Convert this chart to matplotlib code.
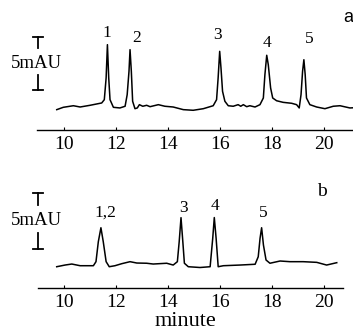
import matplotlib
matplotlib.use("Agg")
import matplotlib.pyplot as plt

plt.rcParams['font.family'] = ['Liberation Serif', 'DejaVu Serif']

# chromatogram a: retention time (min) and absorbance (mAU)
time_a = [9.72, 9.97, 10.36, 10.62, 11.00, 11.45, 11.55, 11.62, 11.67, 11.72,
          11.77, 11.90, 12.15, 12.35, 12.43, 12.50, 12.54, 12.59, 12.64, 12.73,
          12.82, 12.90, 13.03, 13.18, 13.31, 13.63, 13.88, 14.20, 14.59, 14.97,
          15.36, 15.74, 15.87, 15.93, 15.99, 16.04, 16.10, 16.19, 16.32, 16.51,
          16.70, 16.80, 16.90, 17.03, 17.15, 17.35, 17.54, 17.67, 17.73, 17.80,
          17.86, 17.95, 18.03, 18.18, 18.43, 18.76, 18.95, 19.05, 19.12, 19.18,
          19.23, 19.28, 19.33, 19.46, 19.72, 20.04, 20.36, 20.62, 21.00, 21.15]
mau_a = [1.92, 2.14, 2.29, 2.17, 2.33, 2.55, 2.86, 4.91, 8.05, 4.91,
         2.86, 2.14, 2.08, 2.24, 3.33, 5.54, 7.58, 5.54, 2.71, 2.01,
         2.08, 2.39, 2.24, 2.33, 2.20, 2.39, 2.24, 2.17, 1.92, 1.86,
         2.01, 2.29, 2.86, 4.91, 7.42, 5.85, 3.65, 2.71, 2.29, 2.24,
         2.39, 2.24, 2.39, 2.20, 2.29, 2.17, 2.39, 3.02, 5.22, 7.05,
         6.16, 3.96, 3.02, 2.76, 2.61, 2.52, 2.39, 2.08, 3.33, 5.54,
         6.63, 5.22, 3.02, 2.39, 2.17, 2.01, 2.24, 2.29, 2.08, 2.10]

# chromatogram b
time_b = [9.72, 10.04, 10.30, 10.62, 11.13, 11.23, 11.32, 11.42, 11.51, 11.62,
          11.74, 11.96, 12.22, 12.54, 12.80, 13.18, 13.43, 13.95, 14.20, 14.36,
          14.43, 14.50, 14.57, 14.63, 14.78, 15.23, 15.62, 15.72, 15.78, 15.85,
          15.93, 16.13, 16.77, 17.35, 17.47, 17.54, 17.60, 17.67, 17.77, 17.92,
          18.31, 18.69, 19.20, 19.72, 20.10, 20.49]
mau_b = [1.90, 2.05, 2.14, 1.99, 1.99, 2.35, 4.13, 5.38, 4.13, 2.35,
         1.90, 1.99, 2.17, 2.35, 2.23, 2.21, 2.14, 2.21, 2.05, 2.35,
         4.13, 6.28, 4.13, 2.21, 1.90, 1.83, 1.90, 4.44, 6.29, 4.44,
         1.90, 1.99, 2.05, 2.12, 2.79, 4.44, 5.38, 3.84, 2.50, 2.21,
         2.41, 2.35, 2.35, 2.29, 2.05, 2.26]

peak_labels_a = ['1', '2', '3', '4', '5']
label_t_a = [11.65, 12.81, 15.92, 17.81, 19.42]
label_y_a = [9.15, 8.68, 8.96, 8.21, 8.58]

peak_labels_b = ['1,2', '3', '4', '5']
label_t_b = [11.58, 14.58, 15.81, 17.65]
label_y_b = [6.70, 7.14, 7.32, 6.70]

ticks = [10, 12, 14, 16, 18, 20]

W, H = 353, 332
fig = plt.figure(figsize=(W / 100, H / 100), dpi=100)


def panel(rect, xlim, ylim, t, y, labels, lt, ly, bar_t, bar_lo):
    ax = fig.add_axes(rect)
    ax.plot(t, y, color='black', lw=1.1, clip_on=False)
    for s, x0, y0 in zip(labels, lt, ly):
        ax.text(x0, y0, s, ha='center', va='center', fontsize=12.5)
    # 5 mAU scale bar with the label sitting in the gap
    hi = bar_lo + 5
    cap = 0.21
    kw = dict(color='black', lw=1.3, clip_on=False)
    ax.plot([bar_t - cap, bar_t + cap], [hi, hi], **kw)
    ax.plot([bar_t - cap, bar_t + cap], [bar_lo, bar_lo], **kw)
    ax.plot([bar_t, bar_t], [hi, hi - 1.05], **kw)
    ax.plot([bar_t, bar_t], [bar_lo, bar_lo + 1.4], **kw)
    ax.text(bar_t - 0.05, bar_lo + 2.55, '5mAU', ha='center', va='center',
            fontsize=13.5, clip_on=False)
    ax.set_xlim(*xlim)
    ax.set_ylim(*ylim)
    ax.patch.set_visible(False)
    for side in ['left', 'top', 'right']:
        ax.spines[side].set_visible(False)
    ax.spines['bottom'].set_linewidth(1.0)
    ax.set_yticks([])
    ax.set_xticks(ticks)
    ax.tick_params(axis='x', direction='in', length=2, width=0.8,
                   labelsize=14, pad=4)
    return ax


ax_a = panel([37 / W, 1 - 130 / H, (W - 37) / W, 130 / H],
             (8.96, 21.12), (0, 130 / 10.6),
             time_a, mau_a, peak_labels_a, label_t_a, label_y_a,
             9.0, 3.77)
ax_b = panel([38 / W, 1 - 288 / H, 305 / W, 118 / H],
             (9.0, 20.73), (0, 118 / 11.2),
             time_b, mau_b, peak_labels_b, label_t_b, label_y_b,
             9.0, 3.48)

fig.text(348 / W, 1 - 18 / H, 'a', ha='center', va='center', fontsize=13,
         family=['Liberation Sans'])
fig.text(322 / W, 1 - 192 / H, 'b', ha='center', va='center', fontsize=14)
fig.text(185 / W, 1 - 322 / H, 'minute', ha='center', va='center', fontsize=16)

fig.savefig('out.png', dpi=100)
